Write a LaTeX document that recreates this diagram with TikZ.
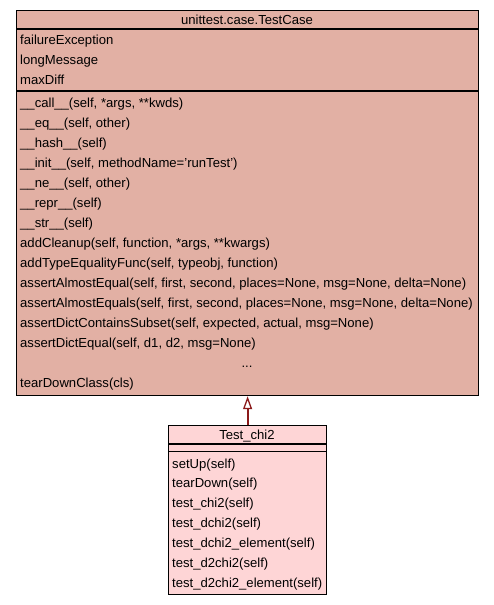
\documentclass[tikz,border=0pt]{standalone}
\usepackage{fontspec}
\setmainfont{Liberation Sans}
\usetikzlibrary{arrows.meta}
\definecolor{basefill}{RGB}{226,176,164}
\definecolor{derivfill}{RGB}{254,213,214}
\definecolor{edgecol}{RGB}{139,26,26}
\begin{document}
\begin{tikzpicture}[x=1pt,y=-1pt,
  boxline/.style={draw=black,line width=1.2pt},
  member/.style={anchor=base west,inner sep=0pt,font=\fontsize{13.1}{15}\selectfont},
  titletext/.style={anchor=base,inner sep=0pt,font=\fontsize{13.1}{15}\selectfont}]
\useasboundingbox (0,0) rectangle (493,605);
% base class
\node[boxline,fill=basefill,minimum width=462pt,minimum height=385pt,inner sep=0pt,anchor=north west] (base) at (16,10) {};
\draw[line width=1.2pt] (16,29) -- (478,29);
\draw[line width=1.2pt] (16,91) -- (478,91);
\node[titletext] (bt) at (247,24.5) {unittest.case.TestCase};
\foreach \y/\t [count=\i] in {39/failureException,59/longMessage,79/maxDiff,
  102/{\_\_call\_\_(self, *args, **kwds)},
  122/{\_\_eq\_\_(self, other)},
  142/{\_\_hash\_\_(self)},
  162/{\_\_init\_\_(self, methodName='runTest')},
  182/{\_\_ne\_\_(self, other)},
  202/{\_\_repr\_\_(self)},
  222/{\_\_str\_\_(self)},
  242/{addCleanup(self, function, *args, **kwargs)},
  262/{addTypeEqualityFunc(self, typeobj, function)},
  282/{assertAlmostEqual(self, first, second, places=None, msg=None, delta=None)},
  302/{assertAlmostEquals(self, first, second, places=None, msg=None, delta=None)},
  322/{assertDictContainsSubset(self, expected, actual, msg=None)},
  342/{assertDictEqual(self, d1, d2, msg=None)},
  382/{tearDownClass(cls)}}
  {\node[member] (bm\i) at (20,\y+5) {\t};}
\node[titletext] (dots) at (247,367) {...};
% derived class
\node[boxline,fill=derivfill,minimum width=158pt,minimum height=169pt,inner sep=0pt,anchor=north west] (der) at (168,425) {};
\draw[line width=1.2pt] (168,444) -- (326,444);
\draw[line width=1.2pt] (168,451.5) -- (326,451.5);
\node[titletext] (dt) at (247,439.5) {Test\_chi2};
\foreach \y/\t [count=\i] in {463/setUp(self),482/tearDown(self),502/test\_chi2(self),522/test\_dchi2(self),
  542/test\_dchi2\_element(self),562/test\_d2chi2(self),582/test\_d2chi2\_element(self)}
  {\node[member] (dm\i) at (172,\y+5) {\t};}
% inheritance
\draw[edgecol,line width=2pt,-{Triangle[open,fill=white,length=13pt,width=9pt,line width=1.3pt]}] (der.north) -- (base.south);
\end{tikzpicture}
\end{document}
